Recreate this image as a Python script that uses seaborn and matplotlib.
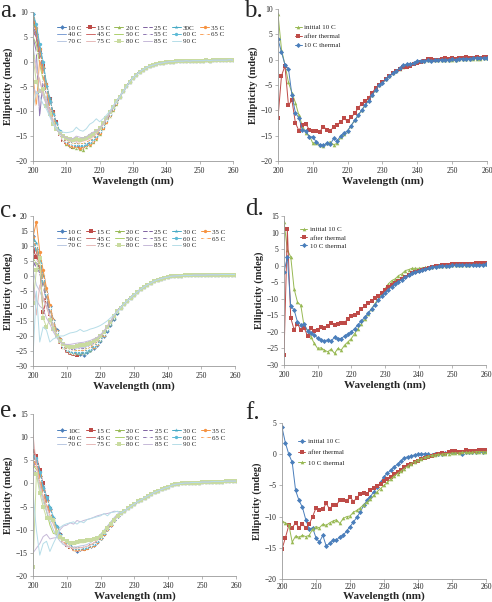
import matplotlib
matplotlib.use("Agg")
import matplotlib.pyplot as plt
import seaborn as sns

# wavelength grid, 1 nm steps
wavelength = list(range(200, 261))

# ---- thermal melt panels (a, c, e): 200-225 nm per series, shared tail 226-260 nm
labels_a = ["10 C", "15 C", "20 C", "25 C", "30C", "35 C", "40 C", "45 C", "50 C",
            "55 C", "60 C", "65 C", "70 C", "75 C", "80 C", "85 C", "90 C"]
labels_c = ["10 C", "15 C", "20 C", "25 C", "30 C", "35 C", "40 C", "45 C", "50 C",
            "55 C", "60 C", "65 C", "70 C", "75 C", "80 C", "85 C", "90 C"]
labels_e = ["10C", "15 C", "20 C", "25 C", "30 C", "35 C", "40 C", "45 C", "50 C",
            "55 C", "60 C", "65 C", "70 C", "75 C", "80 C", "85 C", "90 C"]

a_head = [
    [9.5, 5.5, 1.8, -1.2, -4.8, -8.2, -10.8, -12.6, -14.2, -15.4, -16.3, -16.4, -16.9, -16.6, -17.2, -16.9, -16.6, -16.3, -15.8, -15, -14, -13, -11.8, -10.6, -9.4, -8.2],
    [8, 6.2, 2.3, -0.8, -4.6, -7.6, -10.1, -12.2, -14.5, -15.8, -16.1, -16.8, -17.2, -17.1, -17.4, -17.2, -16.9, -16.4, -16.1, -15.3, -14.4, -13.3, -12, -10.9, -9.6, -8.4],
    [7.5, 6.8, 1, -2, -5, -7.8, -10.6, -12.8, -14.3, -15.5, -16.6, -16.9, -17.1, -17.3, -17.5, -17.7, -17.2, -16.7, -16.2, -15.5, -14.5, -13.4, -12.2, -11, -9.7, -8.5],
    [6, 5, 1.5, -1.8, -5.2, -8.3, -10.9, -12.9, -14.6, -15.7, -16.2, -16.6, -16.8, -17.1, -17.1, -17.2, -16.9, -16.6, -16, -15.3, -14.3, -13.2, -12.1, -10.9, -9.6, -8.4],
    [9.8, 7, 2.8, 0, -4.2, -7.4, -10.2, -12.4, -14, -15.2, -16, -16.4, -16.6, -16.8, -16.9, -16.9, -16.7, -16.4, -15.9, -15.2, -14.2, -13.1, -11.9, -10.7, -9.4, -8.2],
    [8.8, 6.8, 2.5, -1, -4.5, -8, -10.4, -12.7, -14.1, -15.3, -16.4, -16.7, -17, -16.9, -17.3, -17, -16.8, -16.5, -16, -15.4, -14.4, -13.3, -12.1, -10.8, -9.5, -8.3],
    [7, 5.3, 1.2, -2.3, -5.5, -8.5, -11, -12.8, -14.4, -15.5, -16.2, -16.6, -16.9, -17, -17.1, -17, -16.8, -16.4, -15.9, -15.2, -14.2, -13.1, -11.9, -10.7, -9.4, -8.2],
    [6.5, 4.8, 0.6, -2.6, -6, -9, -11.3, -13, -14.5, -15.6, -16.3, -16.7, -16.9, -17, -17, -16.9, -16.7, -16.3, -15.8, -15.1, -14.1, -13, -11.8, -10.6, -9.3, -8.1],
    [5, 3.5, -0.5, -3.5, -5.5, -9.5, -11.5, -13.2, -14.3, -15.4, -16, -16.3, -16.5, -16.6, -16.6, -16.5, -16.3, -16, -15.6, -14.9, -13.9, -12.9, -11.7, -10.5, -9.3, -8.1],
    [5, 2, -11, -4, -6.5, -9.8, -11.8, -13.3, -14.6, -15.5, -16.1, -16.5, -16.7, -16.7, -16.8, -16.7, -16.5, -16.2, -15.7, -15, -14, -13, -11.8, -10.6, -9.3, -8.2],
    [9.5, 7.5, 3.5, 0, -4.8, -8, -10.5, -12.4, -14, -15.2, -16, -16.4, -16.6, -16.7, -16.7, -16.7, -16.5, -16.1, -15.6, -14.9, -14, -12.9, -11.8, -10.6, -9.4, -8.2],
    [-2.8, -9, 0.5, -2.5, -5.8, -9, -11.2, -12.9, -14.3, -15.3, -16, -16.3, -16.5, -16.6, -16.6, -16.5, -16.2, -15.9, -15.4, -14.8, -13.9, -12.9, -11.7, -10.6, -9.3, -8.2],
    [3, -1, -4, -6, -7.5, -9.8, -11.8, -13.2, -14.3, -15, -15.5, -15.8, -15.8, -15.6, -15.9, -15.8, -15.6, -15.4, -15, -14.4, -13.6, -12.6, -11.5, -10.3, -9.1, -8],
    [2, -2, -3.5, -6.5, -8, -10, -12, -13.5, -14.5, -15.2, -15.7, -16, -16.1, -16.1, -16.2, -16, -15.8, -15.5, -15.1, -14.5, -13.7, -12.7, -11.6, -10.4, -9.2, -8.1],
    [1, -4, -6, -5.5, -9, -10.5, -12.5, -13.6, -14.4, -15, -15.4, -15.6, -15.7, -15.6, -15.7, -15.5, -15.3, -15, -14.6, -14, -13.3, -12.4, -11.3, -10.2, -9.1, -8],
    [-5, -6.5, -5.5, -7, -8.5, -10.8, -12.4, -13.6, -14.4, -15, -15.3, -15.6, -15.5, -15, -15.2, -15.4, -15.1, -14.6, -14.2, -14, -13.4, -12.6, -11.5, -10.4, -9.2, -8.1],
    [-9.5, -6, -7, -8.5, -9.5, -11, -12.5, -13.5, -14, -14.2, -14.3, -14.2, -14, -13.2, -13.8, -14, -13.5, -12.6, -12.2, -11.5, -12.1, -11.5, -10.8, -10, -9, -8],
]
a_tail = [-7.1, -6, -5, -4, -3.2, -2.6, -2, -1.6, -1.2, -0.9, -0.7, -0.5, -0.35, -0.2, -0.1,
          0, 0, 0.1, 0.1, 0.1, 0.2, 0.1, 0.2, 0.2, 0.2, 0.2, 0.3, 0.2, 0.3, 0.3, 0.3, 0.3, 0.3, 0.4, 0.3]

c_head = [
    [13.5, 9, 4, -1, -5.5, -10, -14.5, -18, -21, -23, -24.5, -25.2, -25.6, -25.8, -26, -26.3, -25.4, -24.8, -24, -23, -21.6, -20, -18.2, -16.3, -14.3, -12.3],
    [8.5, 6.5, 3, -12, -8, -12.5, -16, -19.5, -22, -23.8, -25, -25.6, -26, -26.2, -25.8, -25.6, -25, -24.4, -23.5, -22.4, -21, -19.4, -17.6, -15.6, -13.6, -11.7],
    [12, 10, 6, 0.5, -6, -10.5, -15, -18.5, -21.5, -23.5, -24.8, -25.4, -25.7, -25.6, -25.5, -25.7, -25, -24.6, -23.6, -22.6, -21.2, -19.6, -17.8, -15.9, -13.9, -11.9],
    [3, 5, 2, -2, -6.5, -11, -15.5, -19, -21.8, -23.6, -24.8, -25.3, -25.5, -25.4, -25.4, -25.5, -24.9, -24.4, -23.6, -22.5, -21.1, -19.5, -17.7, -15.8, -13.8, -11.8],
    [13, 11, 5, 0, -5, -10.5, -15, -18.5, -21.3, -23.2, -24.5, -25.1, -25.4, -25.5, -25.6, -25.8, -25.2, -24.6, -23.8, -22.8, -21.4, -19.8, -18, -16, -14, -12],
    [13, 18, 8, 2, -4, -9.5, -14.5, -18.3, -21, -23, -24.3, -25, -25.3, -25.2, -25.2, -25.3, -24.8, -24.3, -23.5, -22.5, -21.1, -19.5, -17.7, -15.8, -13.8, -11.8],
    [12, 9.5, 5, -1, -6, -11, -15.2, -18.8, -21.5, -23.2, -24.4, -25, -25.3, -25.3, -25.2, -25.2, -24.7, -24.2, -23.4, -22.4, -21, -19.4, -17.6, -15.7, -13.7, -11.7],
    [10, 8, 3, -2, -7, -11.5, -15.8, -19, -21.8, -23.4, -24.5, -25, -25.2, -25.1, -25, -25, -24.5, -24, -23.2, -22.2, -20.8, -19.2, -17.4, -15.5, -13.5, -11.6],
    [6, 4, 2, -3, -8, -12, -16, -19.5, -22, -23.5, -24.3, -24.7, -24.8, -24.8, -24.6, -24.6, -24.1, -23.6, -22.8, -21.9, -20.6, -19, -17.3, -15.4, -13.5, -11.6],
    [5, 3, 1, -3.5, -8, -12.5, -16.2, -19.5, -22, -23.4, -24.2, -24.5, -24.6, -24.4, -24.3, -24.2, -23.7, -23.2, -22.5, -21.6, -20.4, -18.9, -17.2, -15.4, -13.5, -11.6],
    [11, 9, 4.5, -1.5, -6, -10.8, -15, -18.6, -21.4, -23.2, -24.4, -25, -25.3, -25.4, -25.3, -25.3, -24.8, -24.2, -23.4, -22.4, -21, -19.4, -17.6, -15.7, -13.7, -11.7],
    [11.5, 10, 4, -1, -5.5, -10.5, -15, -18.8, -21.5, -23.3, -24.3, -24.8, -25, -25, -24.9, -24.9, -24.4, -23.9, -23.1, -22.2, -20.9, -19.3, -17.5, -15.6, -13.6, -11.7],
    [2, -3, -5, -8, -10, -13, -16.5, -19.5, -21.8, -23, -23.8, -24.2, -24.2, -24, -23.9, -23.8, -23.4, -23, -22.3, -21.5, -20.3, -18.9, -17.2, -15.4, -13.5, -11.6],
    [-2, -13, -3, -7, -10.5, -13.5, -17, -19.8, -21.8, -23, -23.7, -24, -24, -23.8, -23.6, -23.5, -23.1, -22.7, -22.1, -21.3, -20.2, -18.8, -17.1, -15.3, -13.5, -11.6],
    [-9, 2, 6, -14, -17, -14.5, -17.5, -20, -21.8, -22.8, -23.4, -23.6, -23.5, -23.3, -23.1, -23, -22.6, -22.2, -21.7, -21, -20, -18.6, -17, -15.2, -13.4, -11.6],
    [-3, -8, -10, -11, -14, -16, -18.5, -20.5, -22, -22.6, -22.8, -22.8, -22.6, -22.4, -22.2, -22.1, -21.8, -21.5, -21, -20.5, -19.6, -18.4, -16.8, -15.1, -13.3, -11.6],
    [-27, -5, -22, -17, -18, -22, -21, -20.5, -20, -20, -19.5, -19, -18.8, -18.5, -17.8, -18.5, -18.2, -17.7, -17.4, -17, -16.5, -15.8, -15, -14, -13, -12],
]
c_tail = [-10.5, -9.3, -8.2, -7.2, -6.2, -5.3, -4.4, -3.6, -2.9, -2.3, -1.7, -1.3, -0.9, -0.6, -0.4,
          -0.1, 0, 0.1, 0.1, 0.2, 0.2, 0.2, 0.3, 0.3, 0.3, 0.3, 0.4, 0.4, 0.4, 0.4, 0.5, 0.5, 0.5, 0.5, 0.5]

e_head = [
    [5, 4.5, 1.5, -1, -3.5, -5.5, -7.5, -9.5, -11, -12.2, -13, -13.5, -14, -14.7, -14.2, -14, -13.8, -13.6, -13.2, -12.6, -11.8, -10.9, -9.9, -8.9, -7.9, -7],
    [7, 6, 3, 0, -3, -5.5, -7.8, -9.7, -11.2, -12.4, -13.2, -13.8, -14.2, -14.3, -14.2, -14.1, -13.9, -13.6, -13.2, -12.6, -11.8, -10.9, -9.9, -8.9, -7.9, -7],
    [6, 5, 2, -1, -4, -6, -8, -10, -11.5, -12.6, -13.3, -13.8, -14.1, -14.1, -14, -13.9, -13.7, -13.4, -13, -12.5, -11.7, -10.8, -9.8, -8.8, -7.8, -6.9],
    [3, 5, 1, -1.5, -4.5, -6.3, -8.3, -10.2, -11.6, -12.7, -13.4, -13.9, -14.1, -14.2, -14.1, -14, -13.8, -13.5, -13.1, -12.5, -11.7, -10.8, -9.8, -8.8, -7.8, -6.9],
    [5.5, 5, 2.5, -0.5, -3, -5, -7.2, -9.3, -11, -12.3, -13.1, -13.7, -14, -14.2, -14.1, -14, -13.8, -13.5, -13.1, -12.5, -11.7, -10.8, -9.8, -8.8, -7.8, -6.9],
    [5, 4, 1.5, -1.5, -3.8, -5.8, -7.9, -9.8, -11.3, -12.5, -13.3, -13.8, -14.1, -14.2, -14.2, -14.1, -13.9, -13.6, -13.2, -12.6, -11.8, -10.9, -9.9, -8.9, -7.9, -7],
    [5.5, 4.5, 2, -1, -3.5, -5.5, -7.6, -9.6, -11.2, -12.4, -13.2, -13.7, -14, -14.1, -14.1, -14, -13.8, -13.5, -13.1, -12.5, -11.7, -10.8, -9.8, -8.8, -7.8, -6.9],
    [6, 5, 2, -1, -4, -6, -8, -9.9, -11.4, -12.5, -13.3, -13.8, -14, -14.1, -14, -13.9, -13.7, -13.4, -13, -12.4, -11.6, -10.7, -9.7, -8.7, -7.8, -6.9],
    [4, 3, 0, -3, -6, -9, -10.8, -11, -11.8, -12.5, -13, -13.2, -13.2, -13, -12.8, -12.8, -12.6, -12.4, -12.1, -11.7, -11, -10.2, -9.3, -8.4, -7.5, -6.7],
    [3, 2.5, 0.5, -2, -4.5, -6.5, -8.5, -10.3, -11.7, -12.7, -13.4, -13.8, -14, -14, -13.9, -13.8, -13.6, -13.3, -12.9, -12.3, -11.5, -10.6, -9.6, -8.7, -7.7, -6.8],
    [6, 5.5, 2.5, -1, -3, -5.3, -7.4, -9.5, -11.1, -12.3, -13.1, -13.6, -13.9, -14, -14, -13.9, -13.7, -13.4, -13, -12.4, -11.6, -10.7, -9.7, -8.7, -7.7, -6.8],
    [5, 4, 1, -2, -4.3, -6.3, -8.2, -10, -11.4, -12.5, -13.2, -13.7, -13.9, -14, -13.9, -13.8, -13.6, -13.3, -12.9, -12.3, -11.5, -10.6, -9.6, -8.6, -7.7, -6.8],
    [3, 2, -1, -4, -6, -8, -10, -11.5, -12.5, -13.2, -13.6, -13.8, -13.8, -13.7, -13.5, -13.4, -13.2, -12.8, -12.3, -11.7, -11, -10.1, -9.2, -8.3, -7.4, -6.6],
    [10.5, 4, 0, -3, -5, -7, -8.8, -10.5, -11.8, -12.8, -13.4, -13.8, -14, -14, -13.9, -13.8, -13.6, -13.3, -12.9, -12.3, -11.5, -10.6, -9.6, -8.7, -7.7, -6.8],
    [-18, 2, -2, -5, -7.5, -7.5, -8, -10.5, -11.5, -12, -12.5, -12.8, -12.8, -12.6, -12.5, -12.5, -12.3, -12.3, -12, -11.8, -11.3, -10.5, -9.6, -8.7, -7.8, -7],
    [-15, -14, -13, -11.5, -11, -12, -11.8, -11.7, -10, -9.2, -9, -8.5, -8.8, -8, -8.3, -8, -7.8, -7.6, -7.3, -7, -6.8, -6.6, -6.5, -6.3, -6, -6.1],
    [-2, -10, -15.5, -13, -12.5, -14.7, -13, -11.5, -9.5, -9, -8.7, -8.5, -8.3, -8.8, -8.2, -8.5, -7.8, -7.6, -7.4, -7.2, -7, -6.5, -7, -6.3, -6.2, -6],
]
e_tail = [-6.4, -5.9, -5.4, -4.9, -4.4, -3.9, -3.5, -3.1, -2.7, -2.3, -1.9, -1.6, -1.3, -1, -0.8,
          -0.4, -0.2, -0.1, 0, 0.1, 0.1, 0.2, 0.2, 0.2, 0.3, 0.3, 0.3, 0.4, 0.4, 0.4, 0.4, 0.5, 0.5, 0.5, 0.5]

# ---- before / after panels (b, d, f)
b_initial = [9, 2, -1, -4.5, -6.5, -8.5, -11, -13, -14.5, -15, -16.5, -16.5, -16.8, -17, -16.5, -16.2, -16.8, -16.5, -15.3, -14.7,
             -14, -13, -12, -11, -10, -9, -8, -7, -6, -5, -4.5, -3.8, -3.2, -2.6, -2.2, -1.8, -1.4, -1.1, -0.9, -0.6,
             -0.4, -0.3, -0.2, -0.1, -0.1, 0, 0, 0, -0.1, 0, -0.1, 0, 0.1, 0.1, 0.1, 0.2, 0.2, 0.2, 0.2, 0.3, 0.3]
b_after = [-11.5, -3.2, -1.2, -9, -8, -12.5, -14, -12.8, -12.7, -13.8, -14, -14, -14.2, -13.2, -13.8, -14, -13.3, -12.8, -12.3, -11.6,
           -12.2, -11.4, -10.6, -9.6, -8.7, -8.2, -7.6, -6.6, -5.6, -5, -4.5, -3.8, -3.3, -2.6, -2.3, -1.9, -1.5, -1.4, -1.2, -0.8,
           -0.6, -0.5, -0.2, 0.1, 0.2, -0.1, 0, 0.2, 0.3, 0.2, 0.3, 0.1, 0.3, 0.4, 0.5, 0.4, 0.3, 0.5, 0.4, 0.5, 0.6]
b_thermal = [4, 1.5, -1, -1.8, -7, -10.5, -11.5, -13.8, -14, -15.3, -15.2, -16.3, -16.8, -16.9, -16.5, -16.7, -15.5, -16, -15, -14.5,
             -14, -13, -12, -11, -10, -9, -8.1, -7, -6, -5, -4.6, -3.9, -3.3, -2.7, -2.2, -1.7, -1.1, -0.9, -0.8, -0.7,
             -0.2, -0.3, -0.2, -0.1, -0.2, -0.1, 0, 0, -0.1, 0, 0.1, 0, 0.2, 0.2, 0.2, 0.2, 0.3, 0.4, 0.4, 0.3, 0.3]

d_initial = [13.3, 4.7, 2.7, -7, -11, -12, -18.5, -19.5, -21.5, -23.5, -25, -24.8, -25.5, -26, -25.2, -26.5, -25, -25.5, -24, -23,
             -22, -20.5, -19, -17.5, -16, -14.5, -13, -11.5, -10, -8.5, -7, -5.5, -4.5, -4, -3, -2.5, -1.5, -1.2, -0.8, -0.8,
             -0.8, -0.7, -0.5, -0.5, -0.3, -0.2, -0.1, 0, 0, 0.1, 0.1, 0.2, 0.2, 0.3, 0.3, 0.3, 0.4, 0.4, 0.4, 0.5, 0.5]
d_after = [-27, 11, -15.8, -19.3, -17.5, -19.5, -18.8, -21.2, -18.8, -19.8, -19.3, -18.4, -18.8, -18.3, -17.3, -18, -17.7, -17.3, -17.2, -16,
           -15.2, -15, -14.3, -13, -12.3, -11.4, -10.6, -9.8, -9.3, -8.2, -7.2, -6.3, -5.8, -5.2, -4.5, -3.9, -3.4, -2.8, -2.3, -1.9,
           -1.6, -1.3, -1, -0.7, -0.5, -0.2, 0, 0.2, 0.3, 0.3, 0.4, 0.5, 0.5, 0.5, 0.6, 0.5, 0.6, 0.8, 0.7, 0.7, 0.8]
d_thermal = [-1.8, 2.5, -12.3, -13.3, -17, -17.8, -17.6, -19.6, -20.4, -21, -21.8, -22.4, -22.7, -22.4, -22.8, -21.6, -22, -22, -21.2, -20.7,
             -20, -19, -17.8, -16.7, -15.5, -14.3, -13, -11.8, -10.5, -9.3, -8.2, -7.2, -6.3, -5.5, -4.8, -4.2, -3.5, -2.9, -2.3, -1.9,
             -1.5, -1.2, -1, -0.7, -0.5, -0.3, -0.2, -0.1, -0.1, 0, 0.1, 0.1, 0.1, 0.2, 0.2, 0.2, 0.3, 0.3, 0.3, 0.3, 0.4]

f_initial = [4.3, 1.8, 0, -1.3, -5.8, -7.4, -8.5, -10.5, -12, -11.8, -13.4, -14.1, -13, -14.7, -14.3, -13.8, -13.8, -13.2, -13, -12.3,
             -11.6, -10.9, -10.1, -9.3, -8.2, -7.4, -6.8, -6, -5.3, -4.5, -3.6, -3, -2.6, -2, -1.6, -1.1, -0.6, -0.4, -0.3, -0.1,
             0, 0, 0.1, 0, -0.1, 0, 0, 0.1, 0.2, 0.3, 0.3, 0.3, 0.3, 0.1, 0.4, 0.3, 0.4, 0.3, 0.5, 0.4, 0.5]
f_after = [-15.2, -13.4, -11.4, -11.8, -11, -11.8, -11.2, -11.8, -11.2, -10, -8.6, -9, -8.8, -7.9, -8.8, -8.1, -8.1, -7.4, -7.4, -7.5,
           -6.8, -7.6, -7, -6.3, -6.2, -6.4, -5.7, -5.4, -5.1, -4.8, -4.3, -3.9, -3.6, -3.2, -2.8, -2.5, -2.1, -1.8, -1.6, -1.3,
           -1.1, -0.8, -0.6, -0.5, -0.3, -0.1, 0, 0.2, 0.1, 0.3, 0.5, 0.5, 0.4, 0.4, 0.6, 0.5, 0.5, 0.5, 0.6, 0.6, 0.6]
f_thermal = [-10.7, -11, -11.3, -14.1, -13.1, -13.3, -13, -13.2, -13, -12, -11.6, -11.8, -11.2, -11.4, -11, -10.7, -10.5, -11.1, -10.3, -10,
             -9.9, -9.3, -9, -8.6, -8.1, -7.7, -7.2, -6.6, -6, -5.5, -5, -4.5, -4, -3.5, -3.1, -2.7, -2.3, -1.9, -1.5, -1.2,
             -0.9, -0.7, -0.5, -0.3, -0.2, -0.1, 0, 0, 0.1, 0.1, 0.2, 0.2, 0.2, 0.3, 0.3, 0.3, 0.3, 0.4, 0.4, 0.4, 0.4]

pair_labels = ["initial 10 C", "after thermal", "10 C thermal"]

# Excel-like series look
BLUE, RED, GREEN = "#4a7ebb", "#be4b48", "#98b954"
melt_colors = [BLUE, RED, GREEN, "#7d60a0", "#46aac5", "#f69240",
               "#7c9fd4", "#d06a68", "#add06c", "#8e76b2", "#5cbad6", "#f9a35c",
               "#b9c8e2", "#e6b9b8", "#c9dba0", "#c6b9d8", "#b6dde8"]
melt_markers = ["D", "s", "^", "x", "*", "o", None, None, None, "+", "o", "+",
                None, None, "s", None, None]

sns.set_style("white")
plt.rcParams["font.family"] = ["Liberation Serif", "DejaVu Serif"]

W, H = 492, 602
fig = plt.figure(figsize=(W / 100, H / 100), dpi=100)


def add_axes(left, right, top, bottom):
    return fig.add_axes([left / W, 1 - bottom / H, (right - left) / W, (bottom - top) / H])


def style_axes(ax, ylo, yhi, xpad=1, tpad=2):
    ax.set_xlim(200, 260)
    ax.set_ylim(ylo, yhi)
    ax.set_xticks(range(200, 261, 10))
    ax.set_yticks(range(ylo, yhi + 1, 5))
    for s in ["top", "right"]:
        ax.spines[s].set_visible(False)
    for s in ["left", "bottom"]:
        ax.spines[s].set_color("#9a9a9a")
        ax.spines[s].set_linewidth(0.6)
    ax.tick_params(axis="both", direction="out", length=2, width=0.5, color="#9a9a9a",
                   labelsize=5.5, pad=2, left=True, bottom=True)
    ax.tick_params(axis="x", pad=tpad)
    ax.set_xlabel("Wavelength (nm)", fontsize=8, fontweight="bold", labelpad=xpad)
    ax.set_ylabel("Ellipticity (mdeg)", fontsize=7.5, fontweight="bold", labelpad=2)


def draw_melt(ax, labels, heads, tail, ylo, yhi):
    for i, (lab, head) in enumerate(zip(labels, heads)):
        m = melt_markers[i]
        sns.lineplot(x=wavelength, y=head + tail, ax=ax, color=melt_colors[i], lw=0.7,
                     marker=m, markersize=2.4 if m not in ("x", "+", "*") else 3,
                     markeredgewidth=0.6 if m in ("x", "+") else 0, label=lab,
                     estimator=None, sort=False)
    style_axes(ax, ylo, yhi)
    h, l = ax.get_legend_handles_labels()
    order = [0, 6, 12, 1, 7, 13, 2, 8, 14, 3, 9, 15, 4, 10, 16, 5, 11]
    ax.legend([h[k] for k in order], [l[k] for k in order], ncol=6, frameon=False,
              loc="upper left", bbox_to_anchor=(0.12, 0.915), fontsize=5,
              handlelength=1.3, handletextpad=0.3, columnspacing=0.6,
              labelspacing=0.15, borderpad=0, borderaxespad=0)


def draw_pair(ax, series, colors, markers, ylo, yhi, anchor, spacing, xpad=1, tpad=2):
    for y, c, m, lab in zip(series, colors, markers, pair_labels):
        sns.lineplot(x=wavelength, y=y, ax=ax, color=c, lw=0.7, marker=m,
                     markersize=2.6, markeredgewidth=0, label=lab,
                     estimator=None, sort=False)
    style_axes(ax, ylo, yhi, xpad, tpad)
    ax.legend(frameon=False, loc="upper left", bbox_to_anchor=anchor, fontsize=5,
              handlelength=1.0, handletextpad=0.4, labelspacing=spacing,
              borderpad=0, borderaxespad=0)


ax_a = add_axes(33, 233, 12, 161)
draw_melt(ax_a, labels_a, a_head, a_tail, -20, 10)
ax_c = add_axes(33, 235, 216, 366)
draw_melt(ax_c, labels_c, c_head, c_tail, -30, 20)
ax_e = add_axes(33, 236, 414, 576)
draw_melt(ax_e, labels_e, e_head, e_tail, -20, 15)

ax_b = add_axes(278, 487, 9, 161)
draw_pair(ax_b, [b_initial, b_after, b_thermal], [GREEN, RED, BLUE], ["^", "s", "D"],
          -20, 10, (0.08, 0.9), 0.45)
ax_d = add_axes(284, 486, 216, 365)
draw_pair(ax_d, [d_initial, d_after, d_thermal], [GREEN, RED, BLUE], ["^", "s", "D"],
          -30, 15, (0.08, 0.93), 0.35)
ax_f = add_axes(282, 486, 423, 579)
draw_pair(ax_f, [f_initial, f_after, f_thermal], [BLUE, RED, GREEN], ["D", "s", "^"],
          -20, 5, (0.08, 0.9), 0.7, xpad=0, tpad=1)

# panel letters
for txt, x, y in [("a.", 0, 17), ("b.", 244, 17), ("c.", 0, 217),
                  ("d.", 245, 215), ("e.", 0, 417), ("f.", 245, 419)]:
    fig.text(x / W, 1 - y / H, txt, fontsize=18, ha="left", va="baseline")

fig.savefig("out.png", dpi=100)
